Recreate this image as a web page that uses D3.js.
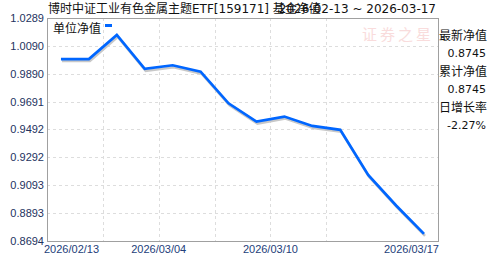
<!DOCTYPE html>
<html>
<head>
<meta charset="utf-8">
<script src="https://cdn.jsdelivr.net/npm/d3@7"></script>
<style>
  body { margin: 0; background: #fff; }
  svg { display: block; }
</style>
</head>
<body>
<svg id="chart"></svg>
<script>
const dates = ["2026-02-13", "2026-02-24", "2026-02-27", "2026-03-03", "2026-03-04",
               "2026-03-05", "2026-03-06", "2026-03-09", "2026-03-10", "2026-03-11",
               "2026-03-12", "2026-03-13", "2026-03-16", "2026-03-17"];
const nav = [0.9995, 0.9995, 1.0168, 0.9925, 0.9951, 0.9905, 0.9679,
             0.9548, 0.9584, 0.9517, 0.9489, 0.9167, 0.8948, 0.8745];
const yTickLabels = ["1.0289", "1.0090", "0.9890", "0.9691", "0.9492",
                     "0.9292", "0.9093", "0.8893", "0.8694"];
const xTickLabels = ["2026-02-13", "2026-03-04", "2026-03-10", "2026-03-17"];
const gridDates = ["2026-02-27", "2026-03-04", "2026-03-06", "2026-03-10", "2026-03-12"];
const infoLabels = ["最新净值", "累计净值", "日增长率"];
const infoValues = ["0.8745", "0.8745", "-2.27%"];

const W = 488, H = 255;
const m = { left: 47, right: 438, top: 18, bottom: 241 };
const latin = "'DejaVu Sans', 'Noto Sans CJK SC', sans-serif";
const tickFont = "'Liberation Sans', Arial, sans-serif";

const svg = d3.select("#chart").attr("width", W).attr("height", H);

const x = d3.scaleBand().domain(dates).range([m.left, m.right]).padding(0);
const y = d3.scaleLinear().domain([+yTickLabels[yTickLabels.length - 1], +yTickLabels[0]])
            .range([m.bottom, m.top]);
const cx = d => x(d) + x.bandwidth() / 2;

// grid
svg.append("g").selectAll("line").data(yTickLabels.slice(1, -1)).enter().append("line")
  .attr("x1", m.left).attr("x2", m.right)
  .attr("y1", d => Math.round(y(+d)) + 0.5).attr("y2", d => Math.round(y(+d)) + 0.5)
  .attr("stroke", "#ddd").attr("stroke-dasharray", "3,3");

svg.append("g").selectAll("line").data(gridDates).enter().append("line")
  .attr("x1", d => Math.round(x(d)) + 0.5).attr("x2", d => Math.round(x(d)) + 0.5)
  .attr("y1", m.top).attr("y2", m.bottom)
  .attr("stroke", "#ddd").attr("stroke-dasharray", "3,3");

// frame
svg.append("rect")
  .attr("x", m.left + 0.5).attr("y", m.top + 0.5)
  .attr("width", m.right - m.left).attr("height", m.bottom - m.top)
  .attr("fill", "none").attr("stroke", "#a0a0a0");

// watermark
svg.append("text")
  .attr("x", 398).attr("y", 40).attr("text-anchor", "middle")
  .attr("fill", "#f9dcdc").style("font-family", "'Noto Sans CJK SC', sans-serif")
  .style("font-size", "15px").style("letter-spacing", "3px")
  .text("证券之星");

// y tick labels
svg.append("g").selectAll("text").data(yTickLabels).enter().append("text")
  .attr("x", 44).attr("y", d => y(+d) + 4)
  .attr("text-anchor", "end").attr("fill", "#23325e")
  .style("font-family", tickFont).style("font-size", "11px")
  .text(d => d);

// x tick labels
svg.append("g").selectAll("text").data(xTickLabels).enter().append("text")
  .attr("x", (d, i) => i === 0 ? x(d) - 3 : i === xTickLabels.length - 1 ? x(d) + x.bandwidth() + 1 : x(d))
  .attr("y", 253)
  .attr("text-anchor", (d, i) => i === 0 ? "start" : i === xTickLabels.length - 1 ? "end" : "middle")
  .attr("fill", "#23407a")
  .style("font-family", tickFont).style("font-size", "11px")
  .text(d => d.replace(/-/g, "/"));

// line with shadow
const line = d3.line().x((d, i) => cx(dates[i])).y(d => y(d));

svg.append("path").datum(nav)
  .attr("d", line).attr("transform", "translate(1,2)")
  .attr("fill", "none").attr("stroke", "#c8c8c8").attr("stroke-width", 2.5);

svg.append("path").datum(nav)
  .attr("d", line)
  .attr("fill", "none").attr("stroke", "#0066ff").attr("stroke-width", 2.7)
  .attr("stroke-linejoin", "miter");

// legend
svg.append("text")
  .attr("x", 53).attr("y", 33)
  .attr("fill", "#111").style("font-family", "'Noto Sans CJK SC', sans-serif").style("font-size", "12px")
  .text("单位净值");
svg.append("rect").attr("x", 105).attr("y", 24).attr("width", 7).attr("height", 3).attr("fill", "#0066ff");

// title (date range overlaps the end of the name, as in the source chart)
svg.append("text")
  .attr("x", 48).attr("y", 13)
  .attr("fill", "#111").style("font-family", latin).style("font-size", "12px")
  .text("博时中证工业有色金属主题ETF[159171] 基金净值");
svg.append("text")
  .attr("x", 436).attr("y", 13).attr("text-anchor", "end")
  .attr("fill", "#111").style("font-family", latin).style("font-size", "12px")
  .text(`${dates[0]} ~ ${dates[dates.length - 1]}`);

// info panel
infoLabels.forEach((label, i) => {
  svg.append("text")
    .attr("x", 439).attr("y", 40 + i * 36)
    .attr("fill", "#111").style("font-family", "'Noto Sans CJK SC', sans-serif").style("font-size", "12px")
    .text(label);
  svg.append("text")
    .attr("x", 486).attr("y", 57 + i * 36).attr("text-anchor", "end")
    .attr("fill", "#111").style("font-family", latin).style("font-size", "11px")
    .text(infoValues[i]);
});
</script>
</body>
</html>
